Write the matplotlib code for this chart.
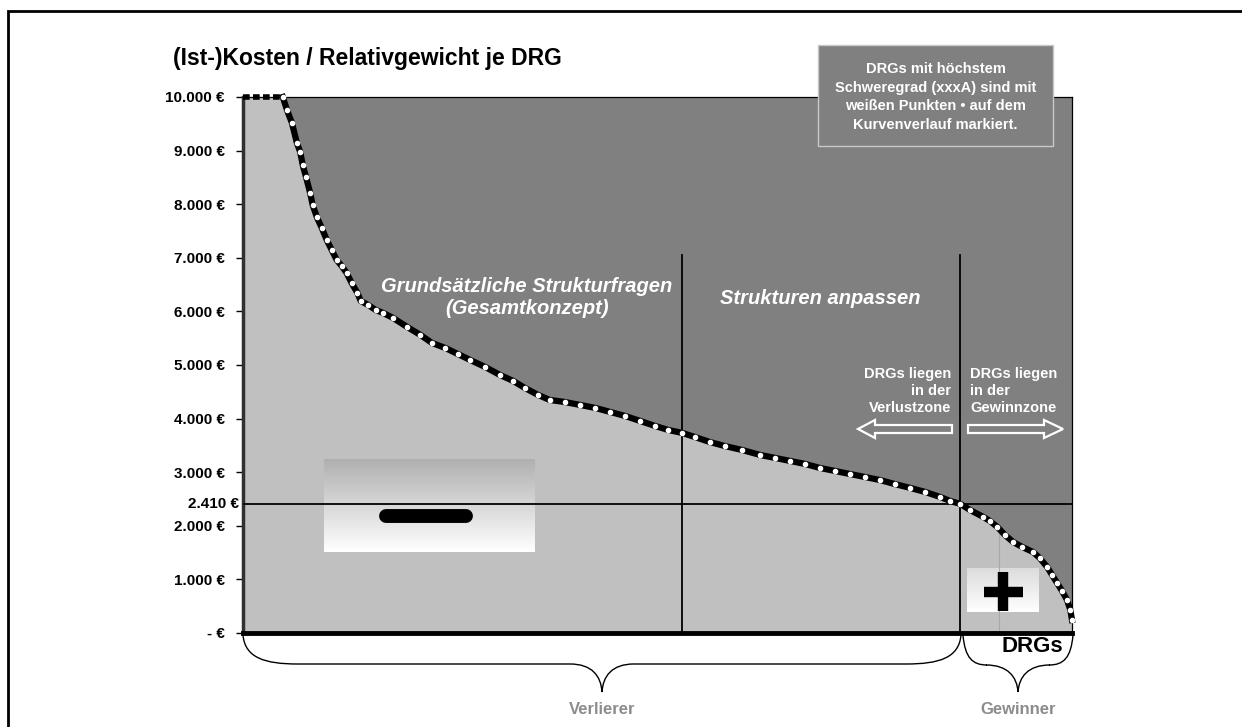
import matplotlib
matplotlib.use("Agg")
import matplotlib.pyplot as plt
import numpy as np
from matplotlib.patches import Rectangle, Polygon, PathPatch
from matplotlib.path import Path
from matplotlib.colors import LinearSegmentedColormap

plt.rcParams["font.family"] = ["Liberation Sans", "DejaVu Sans"]
plt.rcParams["font.weight"] = "bold"

# share of DRGs (sorted by cost, %) and (Ist-)Kosten per Relativgewicht
drg_pct = [4.8, 5.3, 5.9, 6.5, 6.9, 7.2, 7.6, 8.1, 8.4, 8.9, 9.5, 10.1, 10.7,
           11.3, 11.9, 12.5, 13.1, 13.8, 14.2, 15.1, 16.0, 16.9, 18.1, 19.8,
           21.4, 22.8, 24.4, 25.9, 27.4, 29.2, 31.0, 32.6, 34.0, 35.6, 37.0,
           38.8, 40.7, 42.5, 44.3, 46.1, 47.9, 49.7, 51.3, 53.0, 54.5, 56.3,
           58.1, 60.2, 62.4, 64.2, 66.0, 67.8, 69.6, 71.4, 73.2, 75.0, 76.8,
           78.6, 80.5, 82.3, 84.1, 85.3, 86.5, 87.7, 89.3, 90.1, 91.0, 91.9,
           92.9, 94.0, 95.3, 96.1, 97.0, 97.6, 98.2, 98.8, 99.4, 99.8, 100]
cost = [10000, 9760, 9517, 9143, 8975, 8733, 8509, 8210, 7986, 7763, 7557,
        7333, 7147, 6960, 6848, 6718, 6531, 6344, 6195, 6120, 6027, 5971,
        5878, 5710, 5561, 5411, 5318, 5206, 5094, 4964, 4814, 4702, 4572,
        4441, 4348, 4310, 4254, 4199, 4124, 4049, 3956, 3863, 3788, 3732,
        3657, 3564, 3489, 3415, 3321, 3266, 3210, 3154, 3079, 3023, 2967,
        2911, 2855, 2780, 2706, 2631, 2538, 2463, 2410, 2295, 2165, 2090,
        1978, 1829, 1698, 1605, 1511, 1400, 1232, 1082, 933, 784, 616, 429, 243]
capped_pct = [0, 4.8]          # DRGs above 10.000 € (capped)
threshold = 2410
split_pct = [53.0, 86.5]       # vertical separators
split_top = 7050
ytick_vals = [0, 1000, 2000, 3000, 4000, 5000, 6000, 7000, 8000, 9000, 10000]
ytick_labels = ["- €", "1.000 €", "2.000 €", "3.000 €", "4.000 €", "5.000 €",
                "6.000 €", "7.000 €", "8.000 €", "9.000 €", "10.000 €"]

W, H = 1242, 727
fig = plt.figure(figsize=(W / 100, H / 100), dpi=100)

# main axes placed in pixel layout
L, R, T, B = 243, 1072, 97, 633
ax = fig.add_axes([L / W, 1 - B / H, (R - L) / W, (B - T) / H])
ax.set_facecolor("#808080")


def dx(px):
    return (px - L) / (R - L) * 100


def dy(py):
    return (B - py) / (B - T) * 10000


ax.fill_between(capped_pct + drg_pct, [10000, 10000] + cost, 0,
                color="#c0c0c0", lw=0, zorder=1)

# gradient boxes
arr = np.linspace(0, 1, 100).reshape(-1, 1)
cm1 = LinearSegmentedColormap.from_list("g1", ["#b0b0b0", "#ffffff"])
cm2 = LinearSegmentedColormap.from_list("g2", ["#dcdcdc", "#ffffff"])
ax.imshow(arr, cmap=cm1, extent=(dx(324), dx(535), dy(552), dy(459)),
          aspect="auto", origin="upper", zorder=2)
ax.imshow(arr, cmap=cm2, extent=(dx(967), dx(1039), dy(612), dy(569)),
          aspect="auto", origin="upper", zorder=2)
# minus / plus symbols
ax.plot([dx(386), dx(466)], [dy(516), dy(516)], color="black", lw=10,
        solid_capstyle="round", zorder=3)
ax.plot([dx(984), dx(1023)], [dy(592), dy(592)], color="black", lw=7.5,
        solid_capstyle="butt", zorder=3)
ax.plot([dx(1003), dx(1003)], [dy(572), dy(611)], color="black", lw=7.5,
        solid_capstyle="butt", zorder=3)
ax.plot([dx(999), dx(999)], [0, dy(533)], color="#a8a8a8", lw=0.8, zorder=2)

ax.axhline(threshold, color="black", lw=1.3, zorder=4)
for s in split_pct:
    ax.plot([s, s], [0, split_top], color="black", lw=1.3, zorder=4)

ax.plot(capped_pct, [10000, 10000], color="black", lw=4, dashes=(1.2, 0.6),
        zorder=5, clip_on=False)
ax.plot(drg_pct, cost, color="black", lw=4.5, solid_joinstyle="round",
        zorder=5, clip_on=False)
ax.plot(drg_pct, cost, ls="none", marker="o", ms=3.0, mfc="white",
        mec="white", zorder=6, clip_on=False)

ax.set_xlim(0, 100)
ax.set_ylim(0, 10000)
ax.set_xticks([])
ax.set_yticks(ytick_vals)
ax.set_yticklabels(ytick_labels, fontsize=11, fontweight="bold")
ax.tick_params(axis="y", length=5, width=1, pad=8)
ax.spines["left"].set_linewidth(2.5)
ax.spines["left"].set_color("#303030")
ax.spines["bottom"].set_linewidth(3.5)
ax.spines["top"].set_linewidth(0.9)
ax.spines["right"].set_linewidth(0.9)

# overlay in pixel coordinates
ov = fig.add_axes([0, 0, 1, 1], zorder=10)
ov.set_xlim(0, W)
ov.set_ylim(H, 0)
ov.axis("off")

ov.plot([8, 8, W], [H, 11, 11], color="black", lw=2, solid_joinstyle="miter")

ov.text(173, 59, "(Ist-)Kosten / Relativgewicht je DRG", fontsize=16.5,
        fontweight="bold", va="center", ha="left")
ov.text(239, 504, "2.410 €", fontsize=11, fontweight="bold",
        va="center", ha="right")

ov.text(527, 298, "Grundsätzliche Strukturfragen\n(Gesamtkonzept)",
        fontsize=14.5, fontweight="bold", style="italic", color="white",
        ha="center", va="center", linespacing=1.2)
ov.text(820, 298, "Strukturen anpassen", fontsize=14.5, fontweight="bold",
        style="italic", color="white", ha="center", va="center")

ov.text(951, 391, "DRGs liegen\nin der\nVerlustzone", fontsize=10.5,
        color="white", ha="right", va="center", linespacing=1.3)
ov.text(970, 391, "DRGs liegen\nin der\nGewinnzone", fontsize=10.5,
        color="white", ha="left", va="center", linespacing=1.3)

left_arrow = [(858, 429), (875, 420), (875, 425), (952, 425), (952, 433),
              (875, 433), (875, 438)]
right_arrow = [(968, 425), (1044, 425), (1044, 420), (1063, 429),
               (1044, 438), (1044, 433), (968, 433)]
for pts in (left_arrow, right_arrow):
    ov.add_patch(Polygon(pts, closed=True, facecolor="#808080",
                         edgecolor="white", lw=1.6))

ov.add_patch(Rectangle((818, 45), 235, 101, facecolor="#808080",
                       edgecolor="#c8c8c8", lw=1))
ov.text(935.5, 97, "DRGs mit höchstem\nSchweregrad (xxxA) sind mit\n"
        "weißen Punkten • auf dem\nKurvenverlauf markiert.",
        fontsize=10.5, color="white", ha="center", va="center",
        linespacing=1.4)

ov.text(1032, 647, "DRGs", fontsize=16, fontweight="bold", ha="center",
        va="center")


def brace(x0, x1, xm, ytop, yh, ytip, r):
    verts = [(x0, ytop), (x0 + 2, ytop + 23), (x0 + r * 0.4, yh), (x0 + r, yh),
             (xm - 32, yh),
             (xm - 10, yh), (xm - 1, yh + 12), (xm, ytip),
             (xm + 1, yh + 12), (xm + 10, yh), (xm + 32, yh),
             (x1 - r, yh),
             (x1 - r * 0.4, yh), (x1 - 2, ytop + 23), (x1, ytop)]
    codes = [Path.MOVETO, Path.CURVE4, Path.CURVE4, Path.CURVE4,
             Path.LINETO,
             Path.CURVE4, Path.CURVE4, Path.CURVE4,
             Path.CURVE4, Path.CURVE4, Path.CURVE4,
             Path.LINETO,
             Path.CURVE4, Path.CURVE4, Path.CURVE4]
    ov.add_patch(PathPatch(Path(verts, codes), fill=False, lw=1,
                           edgecolor="black"))


brace(243, 961, 602, 635, 664, 692, 55)
brace(963, 1073, 1018, 635, 665, 692, 24)

ov.text(602, 709, "Verlierer", fontsize=12, fontweight="bold",
        color="#8c8c8c", ha="center", va="center")
ov.text(1018, 709, "Gewinner", fontsize=12, fontweight="bold",
        color="#8c8c8c", ha="center", va="center")

fig.savefig("out.png", dpi=100)
